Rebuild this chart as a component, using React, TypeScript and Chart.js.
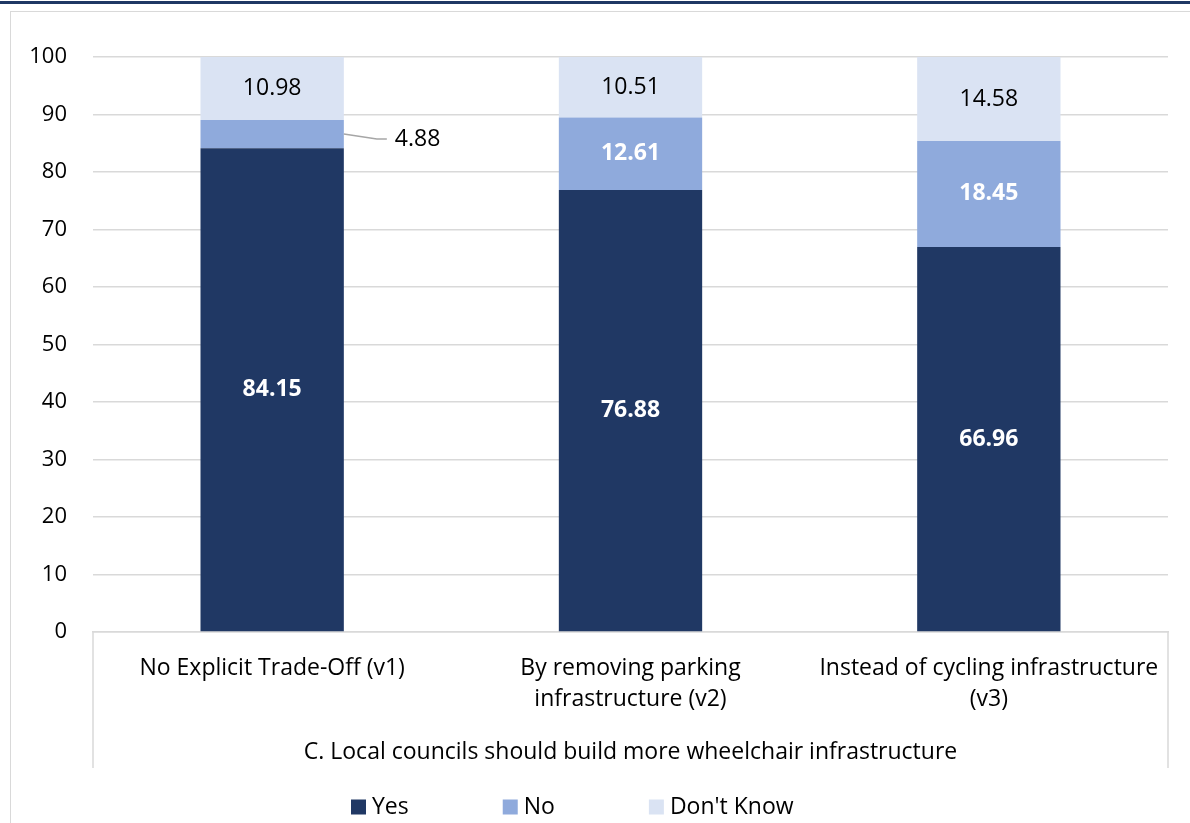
import React, { useEffect, useRef } from "react";
import { Chart, registerables } from "chart.js";

Chart.register(...registerables);

const categories: string[][] = [
  ["No Explicit Trade-Off (v1)"],
  ["By removing parking", "infrastructure (v2)"],
  ["Instead of cycling infrastructure", "(v3)"],
];
const groupLabel = "C. Local councils should build more wheelchair infrastructure";
const seriesNames = ["Yes", "No", "Don't Know"];
const yesValues = [84.15, 76.88, 66.96];
const noValues = [4.88, 12.61, 18.45];
const dontKnowValues = [10.98, 10.51, 14.58];
const seriesColors = ["#203864", "#8faadc", "#dae3f3"];
const labelColors = ["#ffffff", "#ffffff", "#000000"];
const labelBold = [true, true, false];
const yMin = 0;
const yMax = 100;
const yStep = 10;

const FONT = "'Open Sans', 'Noto Sans', sans-serif";
const GRID = "#d9d9d9";
const TEXT = "#000000";
const FS = 23;

const overlayPlugin = {
  id: "overlay",
  afterDatasetsDraw(chart: any) {
    const ctx = chart.ctx;
    ctx.save();
    chart.data.datasets.forEach((ds: any, di: number) => {
      const meta = chart.getDatasetMeta(di);
      meta.data.forEach((el: any, i: number) => {
        const v = ds.data[i];
        const { x, y, base, width } = el.getProps(["x", "y", "base", "width"], true);
        const cy = (y + base) / 2;
        const h = Math.abs(base - y);
        const txt = v.toFixed(2);
        if (h < 32) {
          const rx = x + width / 2;
          ctx.strokeStyle = "#a6a6a6";
          ctx.lineWidth = 1.5;
          ctx.beginPath();
          ctx.moveTo(rx, cy);
          ctx.lineTo(rx + 33, cy + 5);
          ctx.lineTo(rx + 43, cy + 5);
          ctx.stroke();
          ctx.fillStyle = TEXT;
          ctx.font = `${FS}px ${FONT}`;
          ctx.textAlign = "left";
          ctx.textBaseline = "middle";
          ctx.fillText(txt, rx + 51, cy + 5);
        } else {
          ctx.fillStyle = labelColors[di];
          ctx.font = `${labelBold[di] ? "bold " : ""}${FS}px ${FONT}`;
          ctx.textAlign = "center";
          ctx.textBaseline = "middle";
          ctx.fillText(txt, x, cy);
        }
      });
    });
    ctx.restore();
  },
  afterDraw(chart: any) {
    const ctx = chart.ctx;
    const a = chart.chartArea;
    ctx.save();
    ctx.strokeStyle = GRID;
    ctx.lineWidth = 1.5;
    [a.left, a.right].forEach((px: number) => {
      ctx.beginPath();
      ctx.moveTo(px, a.bottom);
      ctx.lineTo(px, a.bottom + 136);
      ctx.stroke();
    });
    ctx.fillStyle = TEXT;
    ctx.font = `${FS}px ${FONT}`;
    ctx.textAlign = "center";
    ctx.textBaseline = "middle";
    ctx.fillText(groupLabel, (a.left + a.right) / 2, a.bottom + 120);
    const legendY = 807;
    let lx = 351;
    ctx.font = `${FS}px ${FONT}`;
    ctx.textAlign = "left";
    seriesNames.forEach((name, i) => {
      ctx.fillStyle = seriesColors[i];
      ctx.fillRect(lx, legendY - 7.5, 15, 15);
      ctx.fillStyle = TEXT;
      ctx.fillText(name, lx + 21, legendY);
      lx += 21 + ctx.measureText(name).width + 94;
    });
    ctx.restore();
  },
};

export default function App() {
  const canvasRef = useRef<HTMLCanvasElement | null>(null);

  useEffect(() => {
    const values = [yesValues, noValues, dontKnowValues];
    const chart = new Chart(canvasRef.current as HTMLCanvasElement, {
      type: "bar",
      data: {
        labels: categories as any,
        datasets: seriesNames.map((name, i) => ({
          label: name,
          data: values[i],
          backgroundColor: seriesColors[i],
          borderWidth: 0,
          categoryPercentage: 1,
          barPercentage: 0.4,
        })),
      },
      options: {
        animation: false,
        responsive: false,
        maintainAspectRatio: false,
        events: [],
        layout: { padding: { left: 0, right: 22, top: 57, bottom: 0 } },
        plugins: {
          legend: { display: false },
          tooltip: { enabled: false },
          title: { display: false },
        },
        scales: {
          x: {
            stacked: true,
            afterFit: (s: any) => {
              s.height = 191;
            },
            grid: { color: "transparent", drawTicks: false },
            border: { display: true, color: GRID, width: 1.5 },
            ticks: {
              color: TEXT,
              font: { family: FONT, size: FS, lineHeight: 1.36 },
              padding: 21,
              maxRotation: 0,
              minRotation: 0,
              autoSkip: false,
            },
          },
          y: {
            stacked: true,
            min: yMin,
            max: yMax,
            afterFit: (s: any) => {
              s.width = 93;
            },
            grid: { color: GRID, lineWidth: 1.5, drawTicks: false },
            border: { display: false },
            ticks: {
              stepSize: yStep,
              color: TEXT,
              font: { family: FONT, size: 22 },
              padding: 26,
            },
          },
        },
      },
      plugins: [overlayPlugin],
    });
    return () => chart.destroy();
  }, []);

  return (
    <div style={{ position: "fixed", left: 0, top: 0, width: 1190, height: 823, background: "#ffffff", overflow: "hidden" }}>
      <div style={{ position: "absolute", left: 0, top: 1, width: 1190, height: 3, background: "#1f3864" }} />
      <div style={{ position: "absolute", left: 10, top: 11, width: 1200, height: 900, borderLeft: "1.5px solid #d9d9d9", borderTop: "1.5px solid #d9d9d9" }} />
      <canvas ref={canvasRef} width={1190} height={823} style={{ position: "absolute", left: 0, top: 0, width: 1190, height: 823 }} />
    </div>
  );
}
